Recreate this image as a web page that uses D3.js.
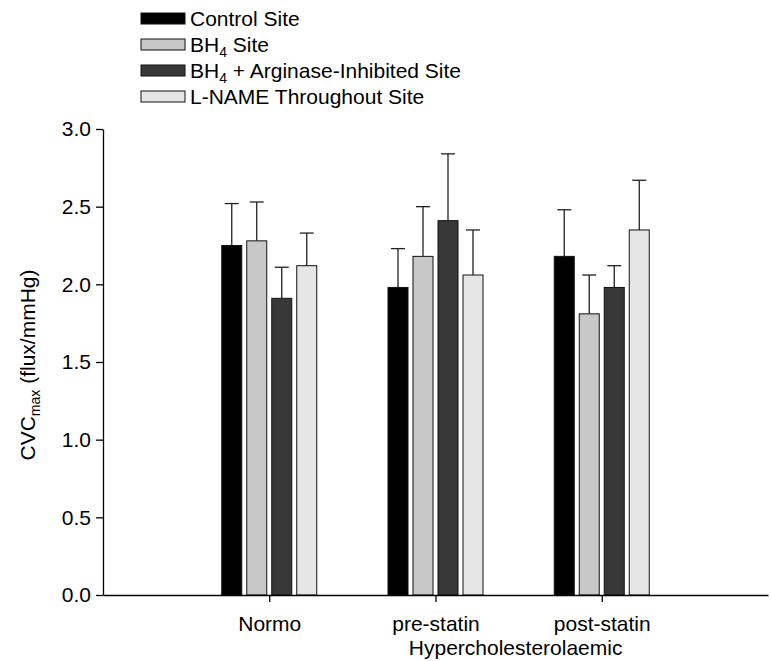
<!DOCTYPE html>
<html>
<head>
<meta charset="utf-8">
<script src="https://cdn.jsdelivr.net/npm/d3@7"></script>
<style>
  body { margin: 0; background: #fff; }
  svg text { font-family: "Liberation Sans", Arial, sans-serif; fill: #000; }
</style>
</head>
<body>
<svg width="771" height="661"></svg>
<script>
// DATA

var groups = ["Normo", "pre-statin", "post-statin"];
var sites = ["Control Site", "BH4 Site", "BH4 + Arginase-Inhibited Site", "L-NAME Throughout Site"];
var siteColors = ["#000000", "#c8c8c8", "#383838", "#e6e6e6"];

// mean per site, one entry per group
var controlMean  = [2.25, 1.98, 2.18];
var bh4Mean      = [2.28, 2.18, 1.81];
var arginaseMean = [1.91, 2.41, 1.98];
var lnameMean    = [2.12, 2.06, 2.35];

// upper error (SEM)
var controlErr  = [0.27, 0.25, 0.30];
var bh4Err      = [0.25, 0.32, 0.25];
var arginaseErr = [0.20, 0.43, 0.14];
var lnameErr    = [0.21, 0.29, 0.32];

var yTicks = [0, 0.5, 1.0, 1.5, 2.0, 2.5, 3.0];

var means = [controlMean, bh4Mean, arginaseMean, lnameMean];
var errs = [controlErr, bh4Err, arginaseErr, lnameErr];

var rows = [];
groups.forEach(function (g, gi) {
  sites.forEach(function (s, si) {
    rows.push({ group: g, site: s, value: means[si][gi], err: errs[si][gi] });
  });
});

// SETUP

var svg = d3.select("svg"),
  plotLeft = 103, plotRight = 768, plotTop = 129, plotBottom = 595,
  fontSize = "21px", subSize = "14px";

var x = d3.scalePoint().domain(groups).range([plotLeft, plotRight]).padding(1),
  xs = d3.scaleBand().domain(sites).range([-50, 50]).paddingInner(0.2).paddingOuter(0.1),
  y = d3.scaleLinear().domain([0, 3]).range([plotBottom, plotTop]),
  color = d3.scaleOrdinal().domain(sites).range(siteColors);

// BARS

var bar = svg.append("g").selectAll("g")
  .data(rows)
  .enter().append("g")
  .attr("transform", function (d) { return "translate(" + (x(d.group) + xs(d.site)) + ",0)"; });

bar.append("line")
  .attr("x1", xs.bandwidth() / 2)
  .attr("x2", xs.bandwidth() / 2)
  .attr("y1", function (d) { return y(d.value); })
  .attr("y2", function (d) { return y(d.value + d.err); })
  .attr("stroke", "#222")
  .attr("stroke-width", 1.3);

bar.append("line")
  .attr("x1", xs.bandwidth() / 2 - 7)
  .attr("x2", xs.bandwidth() / 2 + 7)
  .attr("y1", function (d) { return y(d.value + d.err); })
  .attr("y2", function (d) { return y(d.value + d.err); })
  .attr("stroke", "#222")
  .attr("stroke-width", 1.3);

bar.append("rect")
  .attr("x", 0)
  .attr("width", xs.bandwidth())
  .attr("y", function (d) { return y(d.value); })
  .attr("height", function (d) { return y(0) - y(d.value); })
  .attr("fill", function (d) { return color(d.site); })
  .attr("stroke", "#111")
  .attr("stroke-width", 1);

// AXES

var yAxis = svg.append("g")
  .attr("transform", "translate(" + plotLeft + ",0)")
  .call(d3.axisLeft(y).tickValues(yTicks).tickFormat(d3.format(".1f")).tickSize(7).tickSizeOuter(0).tickPadding(5));

var xAxis = svg.append("g")
  .attr("transform", "translate(0," + plotBottom + ")")
  .call(d3.axisBottom(x).tickSize(7).tickSizeOuter(0).tickPadding(14));

[yAxis, xAxis].forEach(function (a) {
  a.select(".domain").attr("stroke", "#000").attr("stroke-width", 1.3);
  a.selectAll(".tick line").attr("stroke", "#000").attr("stroke-width", 1.3);
  a.selectAll("text").style("font-size", fontSize).attr("fill", "#000").attr("font-family", null);
});

svg.append("text")
  .attr("x", (x("pre-statin") + x("post-statin")) / 2 - 3)
  .attr("y", 655)
  .attr("text-anchor", "middle")
  .style("font-size", fontSize)
  .text("Hypercholesterolaemic");

// y label with subscript
var yl = svg.append("text")
  .attr("transform", "translate(35," + ((plotTop + plotBottom) / 2 + 3) + ") rotate(-90)")
  .attr("text-anchor", "middle")
  .style("font-size", fontSize);
yl.append("tspan").text("CVC");
yl.append("tspan").attr("dy", 5).style("font-size", subSize).text("max");
yl.append("tspan").attr("dy", -5).text(" (flux/mmHg)");

// LEGEND

var legend = svg.append("g").selectAll("g")
  .data(sites)
  .enter().append("g")
  .attr("transform", function (d, i) { return "translate(141," + (13 + i * 26) + ")"; });

legend.append("rect")
  .attr("width", 44)
  .attr("height", 11)
  .attr("fill", function (d) { return color(d); })
  .attr("stroke", "#111")
  .attr("stroke-width", 1);

legend.each(function (d) {
  var t = d3.select(this).append("text")
    .attr("x", 49)
    .attr("y", 13)
    .style("font-size", fontSize);
  var parts = d.split("BH4");
  if (parts.length > 1) {
    t.append("tspan").text("BH");
    t.append("tspan").attr("dy", 5).style("font-size", subSize).text("4");
    t.append("tspan").attr("dy", -5).text(parts[1]);
  } else {
    t.text(d);
  }
});
</script>
</body>
</html>
